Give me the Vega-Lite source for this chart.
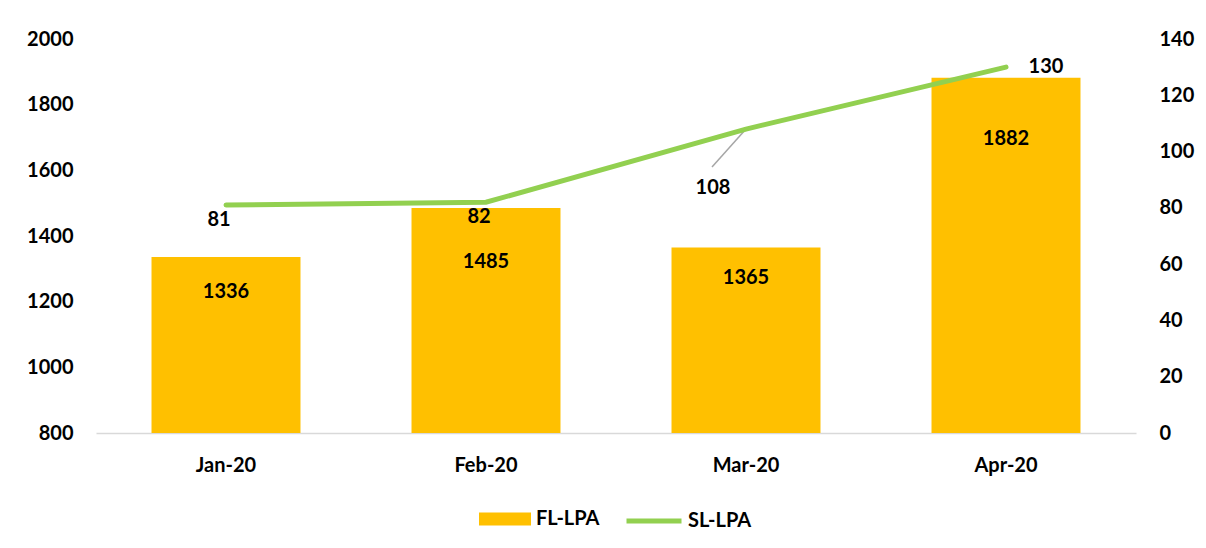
{
  "$schema": "https://vega.github.io/schema/vega-lite/v6.json",
  "width": 1040,
  "height": 394,
  "autosize": {"type": "none"},
  "padding": {"left": 96, "top": 39, "right": 70, "bottom": 115},
  "config": {
    "font": "Lato",
    "view": {"stroke": null},
    "text": {"font": "Lato", "fontWeight": "bold", "fontSize": 20, "color": "#000000"}
  },
  "data": {
    "values": [
      {"month": "Jan-20", "fl": 1336, "sl": 81, "s1": "FL-LPA", "s2": "SL-LPA"},
      {"month": "Feb-20", "fl": 1485, "sl": 82, "s1": "FL-LPA", "s2": "SL-LPA"},
      {"month": "Mar-20", "fl": 1365, "sl": 108, "s1": "FL-LPA", "s2": "SL-LPA"},
      {"month": "Apr-20", "fl": 1882, "sl": 130, "s1": "FL-LPA", "s2": "SL-LPA"}
    ]
  },
  "encoding": {
    "x": {
      "field": "month", "type": "nominal", "sort": null,
      "scale": {"paddingInner": 0.427, "paddingOuter": 0.2135},
      "axis": {"title": null, "labelAngle": 0, "labelFont": "Lato", "labelFontWeight": "bold", "labelFontSize": 20, "labelColor": "#000000", "ticks": false, "domainColor": "#D9D9D9", "domainWidth": 1.5, "labelPadding": 22, "grid": false}
    }
  },
  "layer": [
    {
      "encoding": {
        "y": {
          "field": "fl", "type": "quantitative",
          "scale": {"domain": [800, 2000], "zero": false, "nice": false},
          "axis": {"title": null, "format": "d", "values": [800, 1000, 1200, 1400, 1600, 1800, 2000], "ticks": false, "domain": false, "grid": false, "labelPadding": 23, "labelFont": "Lato", "labelFontWeight": "bold", "labelFontSize": 20, "labelColor": "#000000"}
        }
      },
      "layer": [
        {
          "mark": {"type": "bar", "clip": true},
          "encoding": {
            "fill": {
              "field": "s1", "type": "nominal",
              "scale": {"range": ["#FFC000"]},
              "legend": {"title": null, "orient": "none", "legendX": 383, "legendY": 454, "direction": "horizontal", "symbolType": "M-1,-0.25H1V0.25H-1Z", "symbolSize": 2704, "symbolStrokeWidth": 0, "labelOffset": 5, "labelFont": "Lato", "labelFontWeight": "bold", "labelFontSize": 20, "labelColor": "#000000", "padding": 0}
            }
          }
        },
        {
          "transform": [{"filter": "datum.month == 'Jan-20'"}],
          "mark": {"type": "text", "dy": 35},
          "encoding": {"text": {"field": "fl", "type": "quantitative"}}
        },
        {
          "transform": [{"filter": "datum.month == 'Feb-20'"}],
          "mark": {"type": "text", "dy": 54},
          "encoding": {"text": {"field": "fl", "type": "quantitative"}}
        },
        {
          "transform": [{"filter": "datum.month == 'Mar-20'"}],
          "mark": {"type": "text", "dy": 31},
          "encoding": {"text": {"field": "fl", "type": "quantitative"}}
        },
        {
          "transform": [{"filter": "datum.month == 'Apr-20'"}],
          "mark": {"type": "text", "dy": 61},
          "encoding": {"text": {"field": "fl", "type": "quantitative"}}
        }
      ]
    },
    {
      "encoding": {
        "y": {
          "field": "sl", "type": "quantitative",
          "scale": {"domain": [0, 140], "nice": false},
          "axis": {"title": null, "orient": "right", "values": [0, 20, 40, 60, 80, 100, 120, 140], "ticks": false, "domain": false, "grid": false, "labelPadding": 23, "labelAlign": "left", "labelFont": "Lato", "labelFontWeight": "bold", "labelFontSize": 20, "labelColor": "#000000"}
        }
      },
      "layer": [
        {
          "transform": [{"filter": "datum.month == 'Mar-20'"}],
          "mark": {"type": "rule", "color": "#A6A6A6", "strokeWidth": 1.5, "x2Offset": -34, "y2Offset": 38},
          "encoding": {"x2": {"field": "month"}, "y2": {"field": "sl"}}
        },
        {
          "mark": {"type": "line", "strokeWidth": 5, "strokeCap": "round"},
          "encoding": {
            "stroke": {
              "field": "s2", "type": "nominal",
              "scale": {"range": ["#92D050"]},
              "legend": {"title": null, "orient": "none", "legendX": 528, "legendY": 452, "direction": "horizontal", "symbolType": "stroke", "symbolSize": 3025, "symbolStrokeWidth": 5, "labelOffset": 4, "labelFont": "Lato", "labelFontWeight": "bold", "labelFontSize": 20, "labelColor": "#000000", "padding": 0}
            }
          }
        },
        {
          "transform": [{"filter": "datum.month == 'Jan-20' || datum.month == 'Feb-20'"}],
          "mark": {"type": "text", "dy": 15, "dx": -7},
          "encoding": {"text": {"field": "sl", "type": "quantitative"}}
        },
        {
          "transform": [{"filter": "datum.month == 'Mar-20'"}],
          "mark": {"type": "text", "dy": 59, "dx": -33},
          "encoding": {"text": {"field": "sl", "type": "quantitative"}}
        },
        {
          "transform": [{"filter": "datum.month == 'Apr-20'"}],
          "mark": {"type": "text", "dx": 40},
          "encoding": {"text": {"field": "sl", "type": "quantitative"}}
        }
      ]
    }
  ],
  "resolve": {"scale": {"y": "independent", "fill": "independent", "stroke": "independent"}}
}
